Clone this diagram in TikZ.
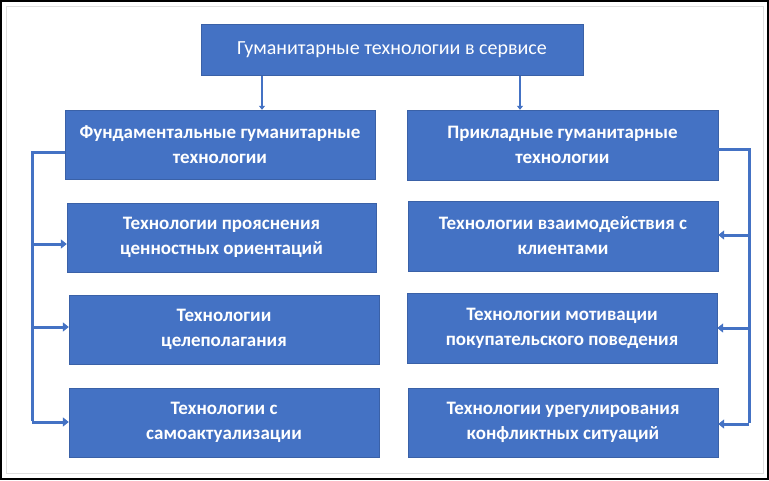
\documentclass[tikz,border=0pt]{standalone}
\usepackage{fontspec}
\setmainfont{Carlito}
\usetikzlibrary{arrows.meta}
\definecolor{myblue}{HTML}{4472C4}
\tikzset{
  box/.style={rectangle, fill=myblue, draw=myblue!85!black, line width=0.4pt, text=white, align=center, inner sep=2pt, font=\fontsize{19}{25}\selectfont\bfseries},
  topbox/.style={box, font=\fontsize{20}{24}\selectfont},
  conn/.style={draw=myblue, line width=3pt},
  arr/.style={conn, -{Triangle[length=6pt,width=9pt]}},
  toparr/.style={draw=myblue, line width=2pt, -{Triangle[length=4pt,width=6pt]}}
}
\begin{document}
\begin{tikzpicture}[x=1pt,y=-1pt]
\useasboundingbox (0,0) rectangle (769,480);
\fill[white] (0,0) rectangle (769,480);
\draw[gray!25, line width=0.6pt] (6,6) rectangle (763,473);
\draw[black, line width=2.5pt] (1,1) rectangle (768,479);

\node[topbox, minimum width=382pt, minimum height=51pt] (T) at (392,49.5) {Гуманитарные технологии в сервисе};

\node[box, minimum width=310pt, minimum height=69pt] (L1) at (220,144.5) {Фундаментальные гуманитарные\\технологии};
\node[box, minimum width=309pt, minimum height=69pt] (L2) at (221.5,237.5) {Технологии прояснения\\ценностных ориентаций};
\node[box, minimum width=310pt, minimum height=69pt] (L3) at (224,329.5) {Технологии\\целеполагания};
\node[box, minimum width=310pt, minimum height=69pt] (L4) at (224,422.5) {Технологии с\\самоактуализации};

\node[box, minimum width=311pt, minimum height=70pt] (R1) at (562.5,145) {Прикладные гуманитарные\\технологии};
\node[box, minimum width=310pt, minimum height=70pt] (R2) at (563,236) {Технологии взаимодействия с\\клиентами};
\node[box, minimum width=310pt, minimum height=70pt] (R3) at (562,328) {Технологии мотивации\\покупательского поведения};
\node[box, minimum width=310pt, minimum height=69pt] (R4) at (563,422.5) {Технологии урегулирования\\конфликтных ситуаций};

% top arrows
\coordinate (ta1) at (262,75.5);
\coordinate (ta2) at (520,75.5);
\draw[toparr] (ta1) -- (ta1 |- L1.north);
\draw[toparr] (ta2) -- (ta2 |- R1.north);

% left trunk
\coordinate (lt) at (32,152);
\coordinate (l2) at (32,244);
\coordinate (l3) at (32,327);
\coordinate (l4) at (32,422);
\draw[conn] (lt -| L1.west) -- (lt) -- ([yshift=1.5pt]l4);
\draw[arr] (l2) -- (l2 -| L2.west);
\draw[arr] (l3) -- (l3 -| L3.west);
\draw[arr] (l4) -- (l4 -| L4.west);

% right trunk
\coordinate (rt) at (749,149);
\coordinate (r2) at (749,235);
\coordinate (r3) at (749,328);
\coordinate (r4) at (749,424);
\draw[conn] (rt -| R1.east) -- (rt) -- ([yshift=1.5pt]r4);
\draw[arr] (r2) -- (r2 -| R2.east);
\draw[arr] (r3) -- (r3 -| R3.east);
\draw[arr] (r4) -- (r4 -| R4.east);
\end{tikzpicture}
\end{document}
